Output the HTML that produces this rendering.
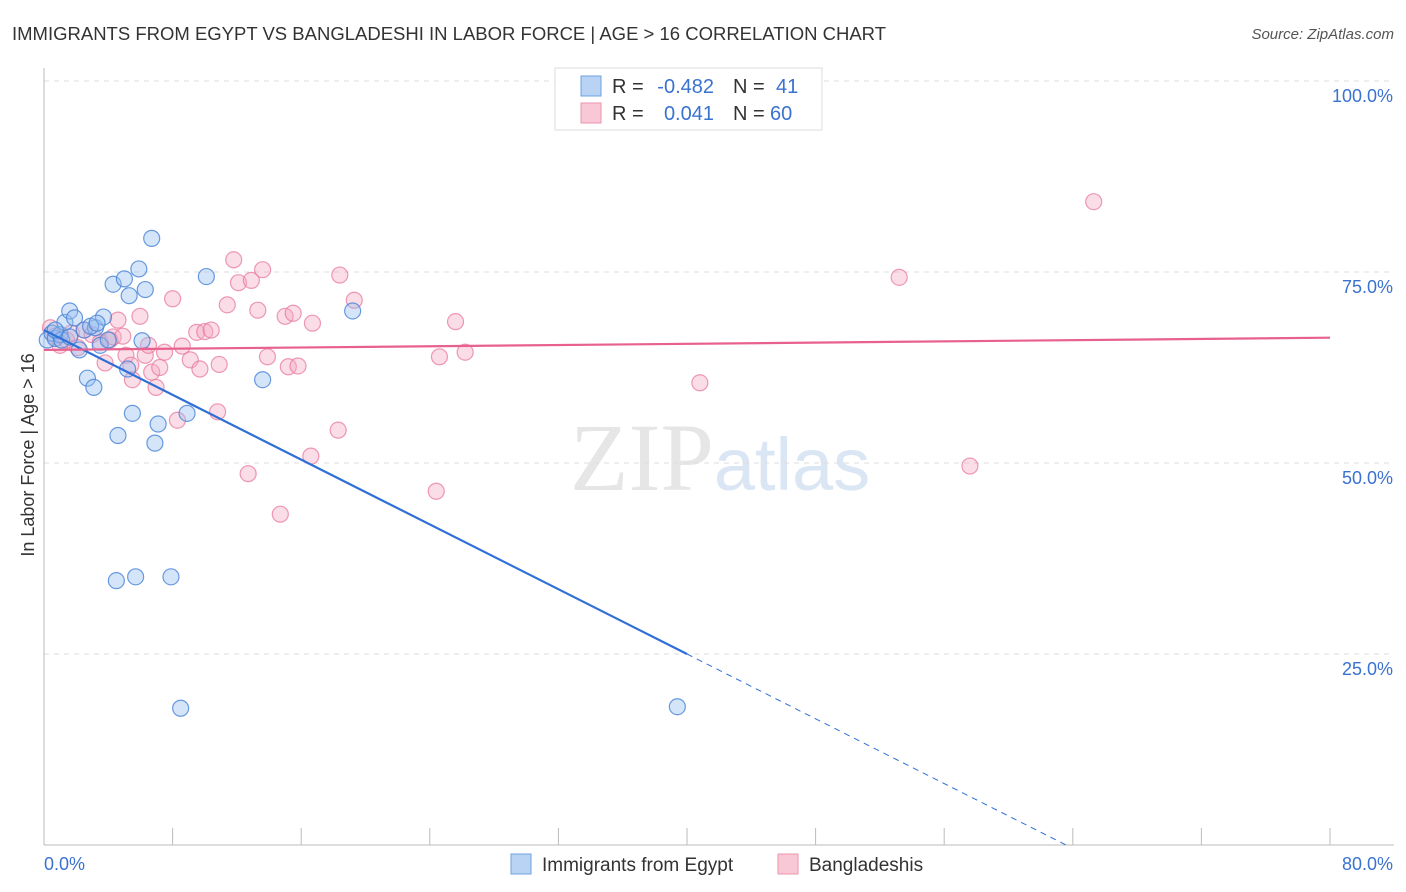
<!DOCTYPE html>
<html><head><meta charset="utf-8"><style>
body{margin:0;background:#fff;font-family:"Liberation Sans",sans-serif;}
svg{display:block}
</style></head><body>
<svg id="c" width="1406" height="892" xmlns="http://www.w3.org/2000/svg">
<text x="12" y="40" font-size="18" fill="#333" textLength="874" lengthAdjust="spacingAndGlyphs">IMMIGRANTS FROM EGYPT VS BANGLADESHI IN LABOR FORCE | AGE &gt; 16 CORRELATION CHART</text>
<text x="1394" y="39" font-size="15" fill="#555" text-anchor="end" font-style="italic">Source: ZipAtlas.com</text>
<text x="720" y="490" font-size="96" fill="#e6e6e6" text-anchor="middle" font-family="Liberation Serif">ZIP<tspan fill="#dbe6f4" font-family="Liberation Sans" font-size="74">atlas</tspan></text>
<g id="grid"></g><g id="axes"></g><g id="pts"></g><g id="lines"></g>
<text transform="translate(34,455) rotate(-90)" font-size="18" fill="#333" text-anchor="middle">In Labor Force | Age &gt; 16</text>
<g>
<rect x="555" y="68" width="267" height="62" fill="#fff" stroke="#ddd"/>
<rect x="581" y="76" width="20" height="20" fill="#b8d3f4" stroke="#6fa0e0"/>
<rect x="581" y="103" width="20" height="20" fill="#f9c8d6" stroke="#ee93ae"/>
<text x="612" y="93" font-size="20" fill="#333">R =</text>
<text x="714" y="93" font-size="20" fill="#3a72d0" text-anchor="end">-0.482</text>
<text x="733" y="93" font-size="20" fill="#333">N =</text>
<text x="776" y="93" font-size="20" fill="#3a72d0">41</text>
<text x="612" y="120" font-size="20" fill="#333">R =</text>
<text x="714" y="120" font-size="20" fill="#3a72d0" text-anchor="end">0.041</text>
<text x="733" y="120" font-size="20" fill="#333">N =</text>
<text x="770" y="120" font-size="20" fill="#3a72d0">60</text>
</g>
<g>
<rect x="511" y="854" width="20" height="20" fill="#b8d3f4" stroke="#6fa0e0"/>
<text x="542" y="871" font-size="19" fill="#333">Immigrants from Egypt</text>
<rect x="778" y="854" width="20" height="20" fill="#f9c8d6" stroke="#ee93ae"/>
<text x="809" y="871" font-size="19" fill="#333">Bangladeshis</text>
</g>
</svg>
<script>
const yTicks=[25,50,75,100];
const yTickLabels=["25.0%","50.0%","75.0%","100.0%"];
const xTickLabels=["0.0%","80.0%"];
const egyptX=[0.2,0.5,0.7,1.0,1.3,1.6,1.9,2.2,2.5,2.7,3.1,3.2,3.5,3.7,4.0,4.3,4.6,4.5,5.0,5.2,5.3,5.5,5.7,5.9,6.1,6.3,6.7,6.9,7.1,7.9,8.5,8.9,10.1,13.6,19.2,39.4,1.1,1.6,2.9,3.3,0.7];
const egyptY=[66.1,67.0,66.3,66.8,68.4,69.9,69.0,64.8,67.4,61.1,59.9,67.7,65.4,69.1,66.1,73.4,53.6,34.6,74.1,62.3,71.9,56.5,35.1,75.4,66.0,72.7,79.4,52.6,55.1,35.1,17.9,56.5,74.4,60.9,69.9,18.1,66.1,66.5,67.9,68.3,67.4];
const banglaX=[0.4,0.7,1.0,1.4,1.7,2.1,2.5,2.99,3.5,3.8,4.1,4.3,4.6,4.9,5.1,5.4,5.5,5.97,6.3,6.5,6.7,6.97,7.2,7.5,8.0,8.3,8.6,9.1,9.5,9.7,10.0,10.4,10.8,10.9,11.4,11.8,12.1,12.7,12.9,13.3,13.6,13.9,14.7,15.0,15.2,15.5,15.8,16.6,16.7,18.3,18.4,19.3,24.4,24.6,25.6,26.2,40.8,53.2,57.6,65.3];
const banglaY=[67.7,66.6,65.4,66.1,67.0,65.1,67.4,66.8,65.8,63.1,66.1,66.5,68.7,66.6,64.1,62.8,60.9,69.2,64.1,65.4,61.9,59.9,62.5,64.5,71.5,55.6,65.3,63.5,67.1,62.3,67.2,67.4,56.7,62.9,70.7,76.6,73.6,48.6,73.9,70.0,75.3,63.9,43.3,69.2,62.6,69.6,62.7,50.9,68.3,54.3,74.6,71.3,46.3,63.9,68.5,64.5,60.5,74.3,49.6,84.2];
const egyptLine=[67.4,-1.06];
const banglaLine=[64.8,0.02];
const NS="http://www.w3.org/2000/svg";
const X=v=>44+v*16.075, Y=v=>845-v*7.64;
function mk(t,a,p){const e=document.createElementNS(NS,t);for(const k in a)e.setAttribute(k,a[k]);document.getElementById(p).appendChild(e);return e;}
yTicks.forEach((t,i)=>{
 const g=mk('line',{x1:44,x2:1394,y1:Y(t),y2:Y(t),stroke:'#ddd','stroke-dasharray':'5,5'},'grid');
 
 
 const l=mk('text',{x:1393,y:Y(t)+21,'font-size':18,fill:'#3a72d0','text-anchor':'end'},'axes');
 l.textContent=yTickLabels[i];
 
 
});
mk('line',{x1:44,x2:44,y1:68,y2:845,stroke:'#bbb'},'axes');
mk('line',{x1:44,x2:1394,y1:845,y2:845,stroke:'#bbb'},'axes');
for(let i=0;i<=10;i++){const t=mk('line',{x1:X(i*8),x2:X(i*8),y1:828,y2:845,stroke:'#bbb'},'axes');
 
 }
[[0,44,'start'],[80,1393,'end']].forEach((d,i)=>{const l=mk('text',{x:d[1],y:870,'font-size':18,fill:'#3a72d0','text-anchor':d[2]},'axes');l.textContent=xTickLabels[i];
 
 });
banglaX.forEach((x,i)=>{const c=mk('circle',{cx:X(x),cy:Y(banglaY[i]),r:8,fill:'rgba(246,170,195,0.4)',stroke:'rgba(232,120,155,0.75)','stroke-width':1.2},'pts');
 
 });
egyptX.forEach((x,i)=>{const c=mk('circle',{cx:X(x),cy:Y(egyptY[i]),r:8,fill:'rgba(150,190,240,0.4)',stroke:'rgba(70,130,215,0.8)','stroke-width':1.2},'pts');
 
 });
const ey=x=>egyptLine[0]+egyptLine[1]*x;
let l1=mk('line',{x1:X(0),y1:Y(ey(0)),x2:X(40),y2:Y(ey(40)),stroke:'#2f6fd6','stroke-width':2.2},'lines');


const xe=-egyptLine[0]/egyptLine[1];
let l2=mk('line',{x1:X(40),y1:Y(ey(40)),x2:X(xe),y2:Y(0),stroke:'#2f6fd6','stroke-width':1,'stroke-dasharray':'6,5'},'lines');


const by=x=>banglaLine[0]+banglaLine[1]*x;
let l3=mk('line',{x1:X(0),y1:Y(by(0)),x2:X(80),y2:Y(by(80)),stroke:'#e8608e','stroke-width':2.2},'lines');


</script>
</body></html>
